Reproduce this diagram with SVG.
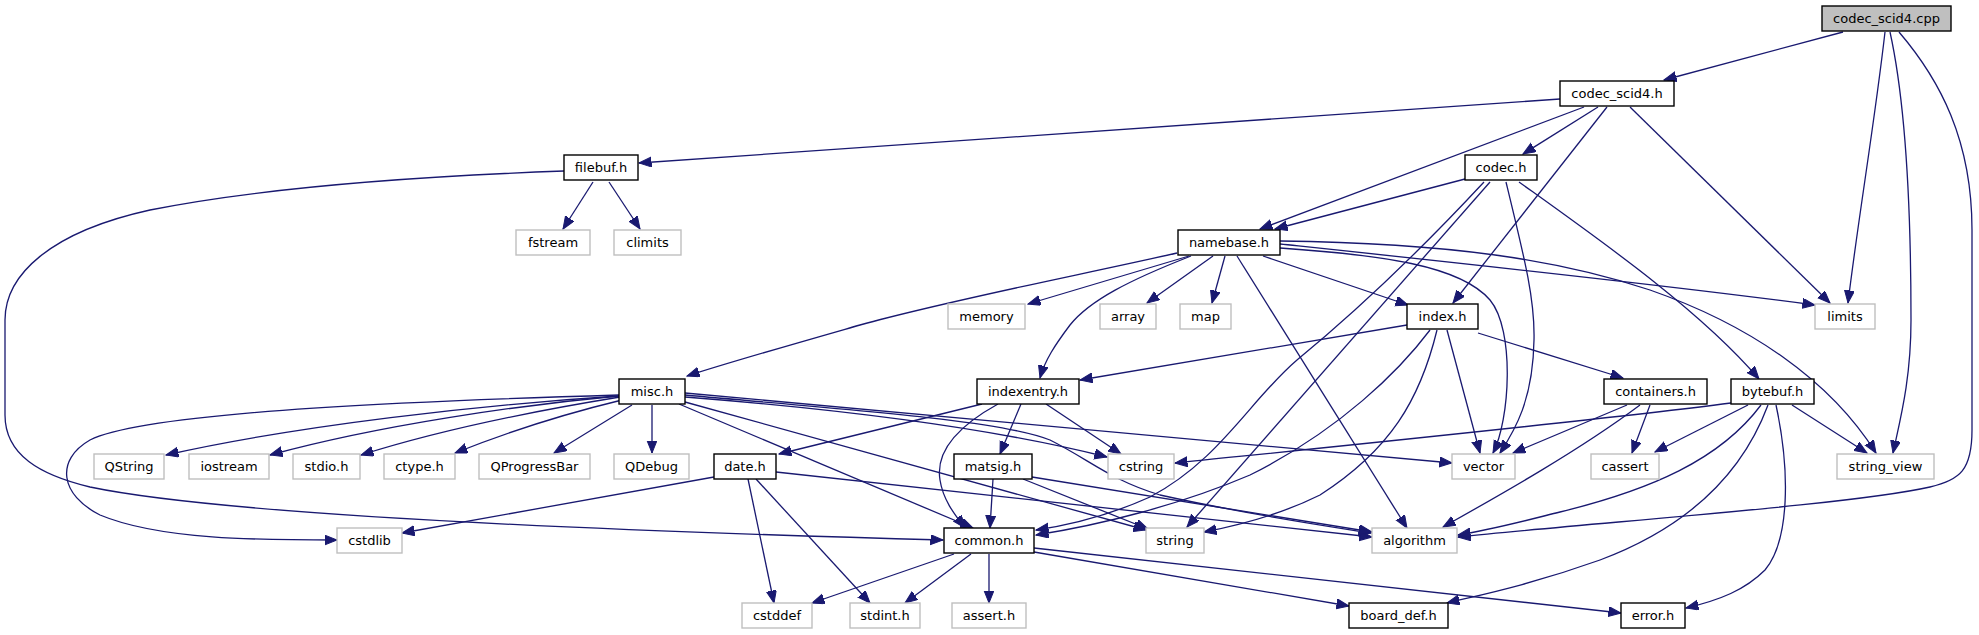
<svg xmlns="http://www.w3.org/2000/svg" width="1979" height="635" viewBox="0 0 1979 635">
<style>
.n rect{fill:#ffffff;stroke:#000000;stroke-width:1.4}
.x rect{fill:#ffffff;stroke:#bfbfbf;stroke-width:1.4}
.r rect{fill:#bfbfbf;stroke:#000000;stroke-width:1.4}
text{font-family:"DejaVu Sans",sans-serif;font-size:13px;text-anchor:middle;fill:#000000}
#edges path{fill:none;stroke:#191970;stroke-width:1.3;marker-end:url(#ah)}
</style>
<defs>
<marker id="ah" markerWidth="14" markerHeight="11" refX="12.5" refY="5" orient="auto" markerUnits="userSpaceOnUse">
<path d="M0,0 L12.5,5 L0,10 z" fill="#191970" stroke="#191970" stroke-width="1"/>
</marker>
</defs>
<rect width="1979" height="635" fill="#ffffff"/>
<g id="edges">
<path d="M1843,32 L1664,80"/>
<path d="M1885,32 C1875,120 1858,220 1848,303"/>
<path d="M1890,32 C1905,100 1911,200 1911,320 C1911,380 1900,420 1893,453"/>
<path d="M1899,32 C1940,80 1972,140 1972,230 L1972,430 C1972,470 1960,480 1930,487 C1850,505 1600,522 1458,537"/>
<path d="M1560,99 L639,163"/>
<path d="M1598,107 L1523,154"/>
<path d="M1584,107 L1260,229"/>
<path d="M1607,107 L1453,303"/>
<path d="M1630,107 L1830,303"/>
<path d="M593,182 L563,229"/>
<path d="M609,182 L640,229"/>
<path d="M564,171 C400,177 250,190 150,210 C50,232 5,275 5,320 L5,415 C5,455 40,475 90,487 C200,510 500,528 943,540"/>
<path d="M1465,179 L1275,229"/>
<path d="M1484,182 C1430,240 1370,300 1297,360 C1250,400 1220,460 1150,497 C1110,515 1070,525 1036,530"/>
<path d="M1490,182 L1187,527"/>
<path d="M1506,182 C1525,260 1535,300 1534,340 C1533,400 1515,430 1500,453"/>
<path d="M1519,182 C1600,240 1700,310 1759,379"/>
<path d="M1177,253 C1080,275 950,300 860,325 C790,345 730,362 687,376"/>
<path d="M1189,256 L1028,304"/>
<path d="M1191,256 C1130,280 1090,300 1070,325 C1055,345 1045,360 1040,378"/>
<path d="M1213,256 L1147,303"/>
<path d="M1225,256 L1212,303"/>
<path d="M1237,256 L1407,528"/>
<path d="M1263,256 L1408,305"/>
<path d="M1280,248 C1380,255 1460,265 1490,300 C1515,330 1510,420 1493,453"/>
<path d="M1280,244 C1450,262 1650,283 1815,305"/>
<path d="M1280,241 C1450,243 1560,260 1650,290 C1750,325 1830,380 1876,453"/>
<path d="M1407,325 L1080,380"/>
<path d="M1430,330 C1400,370 1340,430 1250,475 C1180,505 1100,525 1036,535"/>
<path d="M1437,330 C1420,400 1390,450 1320,495 C1280,515 1240,525 1204,532"/>
<path d="M1447,330 L1480,453"/>
<path d="M1478,333 L1623,378"/>
<path d="M619,396 C480,405 300,425 166,455"/>
<path d="M619,396 C520,405 380,425 270,455"/>
<path d="M620,397 C540,410 440,430 361,455"/>
<path d="M622,400 C560,415 500,435 455,453"/>
<path d="M632,405 L554,453"/>
<path d="M652,405 L652,453"/>
<path d="M619,395 C450,400 150,410 90,440 C55,460 60,495 100,515 C160,540 260,540 337,540"/>
<path d="M679,404 L973,528"/>
<path d="M685,402 L1146,530"/>
<path d="M685,397 C850,410 1000,430 1107,457"/>
<path d="M685,395 C850,410 1000,420 1050,440 C1090,460 1110,480 1160,495 C1250,515 1320,525 1371,533"/>
<path d="M685,393 L1452,463"/>
<path d="M982,404 L779,454"/>
<path d="M998,404 C960,425 935,450 940,480 C943,500 955,515 965,528"/>
<path d="M1021,404 L1000,454"/>
<path d="M1046,404 L1121,454"/>
<path d="M714,477 L402,533"/>
<path d="M748,479 L774,603"/>
<path d="M756,479 L870,603"/>
<path d="M776,472 L1372,537"/>
<path d="M993,479 L990,528"/>
<path d="M1023,479 L1148,529"/>
<path d="M1032,477 L1372,532"/>
<path d="M954,554 L812,603"/>
<path d="M971,554 L905,603"/>
<path d="M989,554 L989,603"/>
<path d="M1034,552 L1349,606"/>
<path d="M1034,548 L1621,613"/>
<path d="M1627,405 L1513,453"/>
<path d="M1640,405 C1580,450 1500,495 1443,527"/>
<path d="M1650,405 L1632,453"/>
<path d="M1731,403 C1600,420 1400,440 1175,463"/>
<path d="M1748,405 L1655,452"/>
<path d="M1761,405 C1720,460 1650,490 1560,512 C1520,522 1490,530 1458,535"/>
<path d="M1768,405 C1740,480 1680,530 1600,560 C1530,585 1480,595 1447,603"/>
<path d="M1776,405 C1790,470 1790,540 1765,570 C1745,590 1720,600 1686,608"/>
<path d="M1792,405 L1867,453"/>
</g>
<g id="codec_scid4_cpp" class="r"><rect x="1822" y="6" width="129" height="25"/><text x="1886.5" y="22.5">codec_scid4.cpp</text></g>
<g id="codec_scid4_h" class="n"><rect x="1560" y="81" width="114" height="25"/><text x="1617" y="97.5">codec_scid4.h</text></g>
<g id="filebuf_h" class="n"><rect x="564" y="155" width="74" height="25"/><text x="601" y="171.5">filebuf.h</text></g>
<g id="codec_h" class="n"><rect x="1465" y="155" width="72" height="25"/><text x="1501" y="171.5">codec.h</text></g>
<g id="fstream" class="x"><rect x="516" y="230" width="74" height="25"/><text x="553" y="246.5">fstream</text></g>
<g id="climits" class="x"><rect x="614" y="230" width="67" height="25"/><text x="647.5" y="246.5">climits</text></g>
<g id="namebase_h" class="n"><rect x="1178" y="230" width="102" height="25"/><text x="1229" y="246.5">namebase.h</text></g>
<g id="memory" class="x"><rect x="948" y="304" width="77" height="25"/><text x="986.5" y="320.5">memory</text></g>
<g id="array" class="x"><rect x="1100" y="304" width="56" height="25"/><text x="1128" y="320.5">array</text></g>
<g id="map" class="x"><rect x="1180" y="304" width="51" height="25"/><text x="1205.5" y="320.5">map</text></g>
<g id="index_h" class="n"><rect x="1407" y="304" width="71" height="25"/><text x="1442.5" y="320.5">index.h</text></g>
<g id="limits" class="x"><rect x="1815" y="304" width="60" height="25"/><text x="1845" y="320.5">limits</text></g>
<g id="misc_h" class="n"><rect x="619" y="379" width="66" height="25"/><text x="652" y="395.5">misc.h</text></g>
<g id="indexentry_h" class="n"><rect x="977" y="379" width="102" height="25"/><text x="1028" y="395.5">indexentry.h</text></g>
<g id="containers_h" class="n"><rect x="1604" y="379" width="103" height="25"/><text x="1655.5" y="395.5">containers.h</text></g>
<g id="bytebuf_h" class="n"><rect x="1731" y="379" width="83" height="25"/><text x="1772.5" y="395.5">bytebuf.h</text></g>
<g id="QString" class="x"><rect x="94" y="454" width="70" height="25"/><text x="129" y="470.5">QString</text></g>
<g id="iostream" class="x"><rect x="189" y="454" width="80" height="25"/><text x="229" y="470.5">iostream</text></g>
<g id="stdio_h" class="x"><rect x="293" y="454" width="67" height="25"/><text x="326.5" y="470.5">stdio.h</text></g>
<g id="ctype_h" class="x"><rect x="384" y="454" width="71" height="25"/><text x="419.5" y="470.5">ctype.h</text></g>
<g id="QProgressBar" class="x"><rect x="479" y="454" width="111" height="25"/><text x="534.5" y="470.5">QProgressBar</text></g>
<g id="QDebug" class="x"><rect x="614" y="454" width="75" height="25"/><text x="651.5" y="470.5">QDebug</text></g>
<g id="date_h" class="n"><rect x="714" y="454" width="62" height="25"/><text x="745" y="470.5">date.h</text></g>
<g id="matsig_h" class="n"><rect x="954" y="454" width="78" height="25"/><text x="993" y="470.5">matsig.h</text></g>
<g id="cstring" class="x"><rect x="1108" y="454" width="66" height="25"/><text x="1141" y="470.5">cstring</text></g>
<g id="vector" class="x"><rect x="1452" y="454" width="63" height="25"/><text x="1483.5" y="470.5">vector</text></g>
<g id="cassert" class="x"><rect x="1591" y="454" width="68" height="25"/><text x="1625" y="470.5">cassert</text></g>
<g id="string_view" class="x"><rect x="1837" y="454" width="97" height="25"/><text x="1885.5" y="470.5">string_view</text></g>
<g id="cstdlib" class="x"><rect x="337" y="528" width="65" height="25"/><text x="369.5" y="544.5">cstdlib</text></g>
<g id="common_h" class="n"><rect x="944" y="528" width="90" height="25"/><text x="989" y="544.5">common.h</text></g>
<g id="string" class="x"><rect x="1146" y="528" width="58" height="25"/><text x="1175" y="544.5">string</text></g>
<g id="algorithm" class="x"><rect x="1372" y="528" width="85" height="25"/><text x="1414.5" y="544.5">algorithm</text></g>
<g id="cstddef" class="x"><rect x="742" y="603" width="70" height="25"/><text x="777" y="619.5">cstddef</text></g>
<g id="stdint_h" class="x"><rect x="850" y="603" width="70" height="25"/><text x="885" y="619.5">stdint.h</text></g>
<g id="assert_h" class="x"><rect x="952" y="603" width="74" height="25"/><text x="989" y="619.5">assert.h</text></g>
<g id="board_def_h" class="n"><rect x="1349" y="603" width="99" height="25"/><text x="1398.5" y="619.5">board_def.h</text></g>
<g id="error_h" class="n"><rect x="1621" y="603" width="64" height="25"/><text x="1653" y="619.5">error.h</text></g>
</svg>
